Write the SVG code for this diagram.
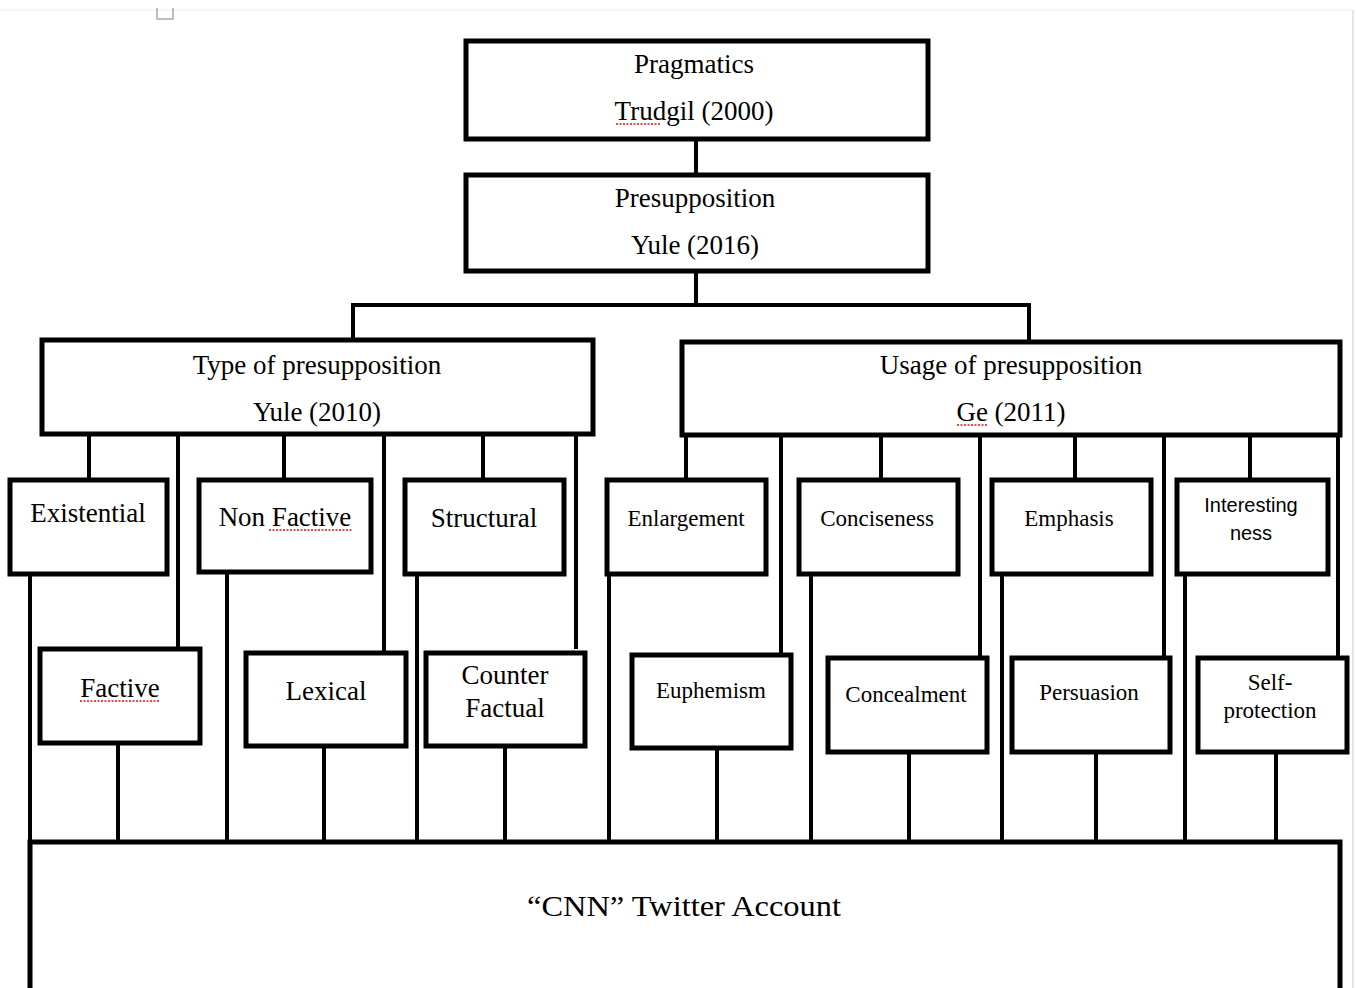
<svg xmlns="http://www.w3.org/2000/svg" width="1356" height="988" viewBox="0 0 1356 988">
<style>
.box{fill:#fff;stroke:#000;stroke-width:5}
.c{stroke:#000;stroke-width:4;fill:none}
.t{font-family:"Liberation Serif","Times New Roman",serif;font-size:27px;fill:#000;text-anchor:middle}
.s{font-family:"Liberation Serif","Times New Roman",serif;font-size:23px;fill:#000;text-anchor:middle}
.sans{font-family:"Liberation Sans",Arial,sans-serif;font-size:20px;fill:#000;text-anchor:middle}
.sq{stroke:#d11;stroke-width:1.5;fill:none;stroke-dasharray:2 1.5}
</style>
<rect x="0" y="0" width="1356" height="988" fill="#fff"/>
<g id="page-artifacts">
<line x1="0" y1="10" x2="1352" y2="10" stroke="#eee" stroke-width="1"/>
<line x1="1353" y1="10" x2="1353" y2="988" stroke="#ddd" stroke-width="1.5"/>
<path d="M157 8 V19 H173 V8" fill="none" stroke="#aaa" stroke-width="1.5"/>
</g>
<g id="connectors">
<line class="c" x1="696" y1="139" x2="696" y2="175"/>
<polyline class="c" points="696,271 696,305"/>
<polyline class="c" points="353,340 353,305 1029,305 1029,342"/>
<line class="c" x1="89" y1="434" x2="89" y2="480"/>
<line class="c" x1="284" y1="434" x2="284" y2="480"/>
<line class="c" x1="483" y1="434" x2="483" y2="480"/>
<line class="c" x1="178" y1="434" x2="178" y2="649"/>
<line class="c" x1="384" y1="434" x2="384" y2="653"/>
<line class="c" x1="576" y1="434" x2="576" y2="649"/>
<line class="c" x1="686" y1="435" x2="686" y2="480"/>
<line class="c" x1="881" y1="435" x2="881" y2="480"/>
<line class="c" x1="1075" y1="435" x2="1075" y2="480"/>
<line class="c" x1="1250" y1="435" x2="1250" y2="480"/>
<line class="c" x1="781" y1="435" x2="781" y2="655"/>
<line class="c" x1="980" y1="435" x2="980" y2="658"/>
<line class="c" x1="1164" y1="435" x2="1164" y2="658"/>
<line class="c" x1="1338" y1="435" x2="1338" y2="658"/>
<line class="c" x1="30" y1="574" x2="30" y2="842"/>
<line class="c" x1="118" y1="743" x2="118" y2="842"/>
<line class="c" x1="227" y1="572" x2="227" y2="842"/>
<line class="c" x1="324" y1="746" x2="324" y2="842"/>
<line class="c" x1="417" y1="574" x2="417" y2="842"/>
<line class="c" x1="505" y1="746" x2="505" y2="842"/>
<line class="c" x1="609" y1="574" x2="609" y2="842"/>
<line class="c" x1="717" y1="748" x2="717" y2="842"/>
<line class="c" x1="811" y1="574" x2="811" y2="842"/>
<line class="c" x1="909" y1="752" x2="909" y2="842"/>
<line class="c" x1="1002" y1="574" x2="1002" y2="842"/>
<line class="c" x1="1096" y1="752" x2="1096" y2="842"/>
<line class="c" x1="1185" y1="574" x2="1185" y2="842"/>
<line class="c" x1="1276" y1="752" x2="1276" y2="842"/>
</g>
<g id="pragmatics">
<rect class="box" x="466" y="41" width="462" height="98"/>
<text class="t" x="694" y="73">Pragmatics</text>
<text class="t" x="694" y="120">Trudgil (2000)</text>
<path class="sq" d="M616 124 L660 124"/>
</g>
<g id="presupposition">
<rect class="box" x="466" y="175" width="462" height="96"/>
<text class="t" x="695" y="207">Presupposition</text>
<text class="t" x="695" y="254">Yule (2016)</text>
</g>
<g id="type">
<rect class="box" x="42" y="340" width="551" height="94"/>
<text class="t" x="317" y="374">Type of presupposition</text>
<text class="t" x="317" y="421">Yule (2010)</text>
</g>
<g id="usage">
<rect class="box" x="682" y="342" width="658" height="93"/>
<text class="t" x="1011" y="374">Usage of presupposition</text>
<text class="t" x="1011" y="421">Ge (2011)</text>
<path class="sq" d="M957 425 L988 425"/>
</g>
<g id="existential">
<rect class="box" x="10" y="480" width="157" height="94"/>
<text class="t" x="88" y="522">Existential</text>
</g>
<g id="nonfactive">
<rect class="box" x="199" y="480" width="172" height="92"/>
<text class="t" x="285" y="526">Non Factive</text>
<path class="sq" d="M269 530 L352 530"/>
</g>
<g id="structural">
<rect class="box" x="405" y="480" width="159" height="94"/>
<text class="t" x="484" y="527">Structural</text>
</g>
<g id="factive">
<rect class="box" x="40" y="649" width="160" height="94"/>
<text class="t" x="120" y="697">Factive</text>
<path class="sq" d="M80 701 L160 701"/>
</g>
<g id="lexical">
<rect class="box" x="246" y="653" width="160" height="93"/>
<text class="t" x="326" y="700">Lexical</text>
</g>
<g id="counterfactual">
<rect class="box" x="426" y="653" width="159" height="93"/>
<text class="t" x="505" y="684">Counter</text>
<text class="t" x="505" y="717">Factual</text>
</g>
<g id="enlargement">
<rect class="box" x="607" y="480" width="159" height="94"/>
<text class="s" x="686" y="526">Enlargement</text>
</g>
<g id="conciseness">
<rect class="box" x="799" y="480" width="159" height="94"/>
<text class="s" x="877" y="526">Conciseness</text>
</g>
<g id="emphasis">
<rect class="box" x="992" y="480" width="159" height="94"/>
<text class="s" x="1069" y="526">Emphasis</text>
</g>
<g id="interestingness">
<rect class="box" x="1177" y="480" width="151" height="94"/>
<text class="sans" x="1251" y="512">Interesting</text>
<text class="sans" x="1251" y="540">ness</text>
</g>
<g id="euphemism">
<rect class="box" x="632" y="655" width="159" height="93"/>
<text class="s" x="711" y="698">Euphemism</text>
</g>
<g id="concealment">
<rect class="box" x="828" y="658" width="159" height="94"/>
<text class="s" x="906" y="702">Concealment</text>
</g>
<g id="persuasion">
<rect class="box" x="1012" y="658" width="158" height="94"/>
<text class="s" x="1089" y="700">Persuasion</text>
</g>
<g id="selfprotection">
<rect class="box" x="1198" y="658" width="149" height="94"/>
<text class="s" x="1270" y="690">Self-</text>
<text class="s" x="1270" y="718">protection</text>
</g>
<g id="cnn">
<rect class="box" x="30" y="842" width="1310" height="200"/>
<text class="t" x="684" y="916" style="font-size:30px" textLength="314" lengthAdjust="spacingAndGlyphs">“CNN” Twitter Account</text>
</g>
</svg>
